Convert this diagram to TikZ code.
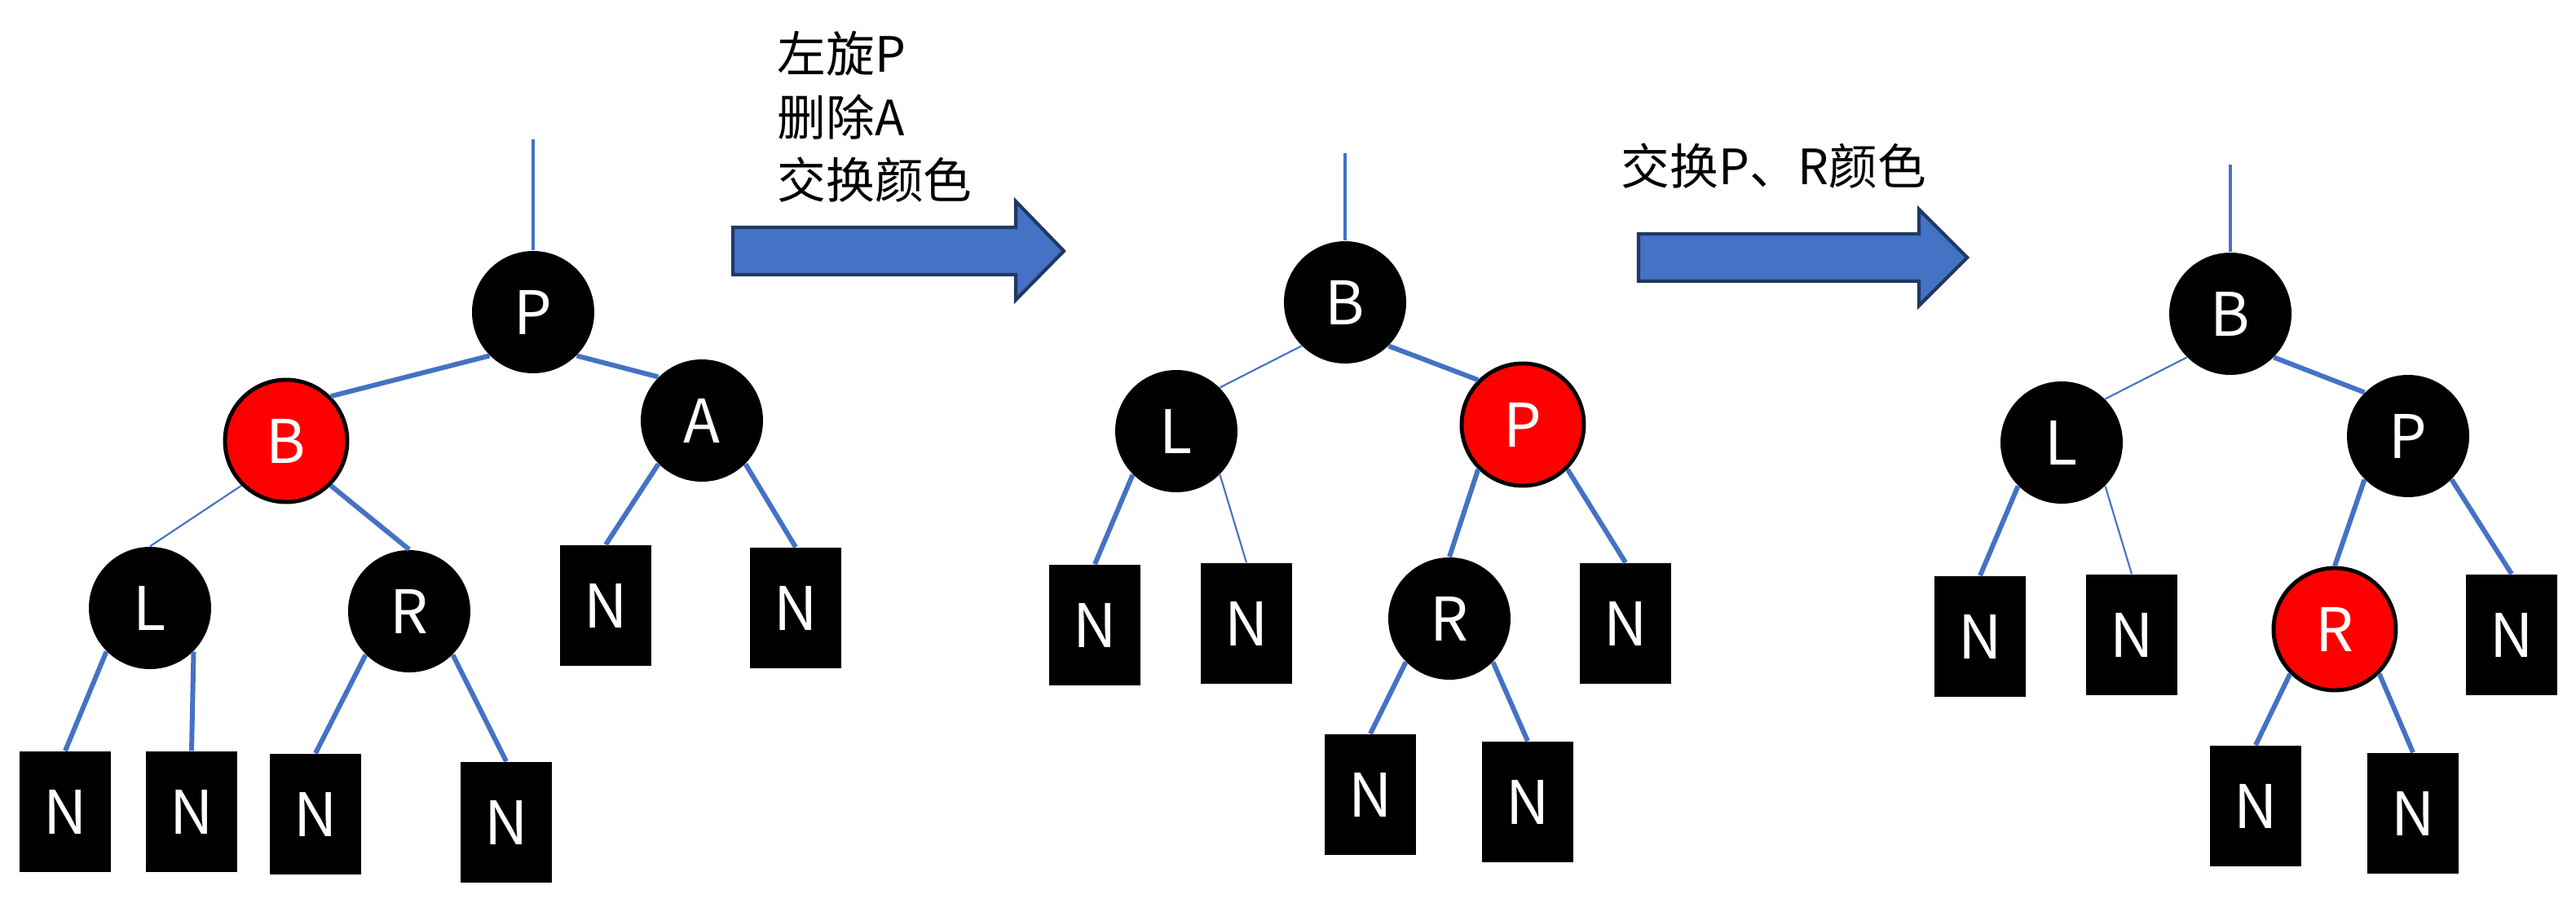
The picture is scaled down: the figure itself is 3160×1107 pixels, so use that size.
\documentclass[tikz,border=0pt]{standalone}
\usepackage{fontspec}
\setmainfont{Noto Sans CJK SC}
\usetikzlibrary{positioning}
\definecolor{linkblue}{HTML}{4472C4}
\definecolor{arrowedge}{HTML}{203864}
\definecolor{nodered}{HTML}{FF0000}

\begin{document}
\begin{tikzpicture}[
  x=0.1mm, y=-0.1mm,
  blk/.style={circle, fill=black, minimum size=1.5cm, inner sep=0pt,
              text=white, font=\fontsize{21}{25}\selectfont},
  rednode/.style={blk, fill=nodered, draw=black, line width=1.4pt},
  nil/.style={rectangle, fill=black, minimum width=1.12cm, minimum height=1.48cm,
              inner sep=0pt, text=white, font=\fontsize{21}{25}\selectfont},
  link/.style={linkblue, line width=1.7pt},
  thinlink/.style={linkblue, line width=0.6pt},
  stem/.style={linkblue, line width=1.4pt},
  bigarrow/.style={fill=linkblue, draw=arrowedge, line width=1.2pt},
  note/.style={font=\fontsize{17}{22}\selectfont, inner sep=0pt, align=left}
]
\useasboundingbox (0,0) rectangle (3160,1107);

% before
\coordinate (top1) at (654,171);
\node[blk] (P1) at (654,383) {P};
\node[rednode] (B1) at (351,541) {B};
\node[blk] (A1) at (861,516) {A};
\node[blk] (L1) at (184,746) {L};
\node[blk] (R1) at (502,750) {R};
\node[nil] (n11) at (80,996) {N};
\node[nil] (n12) at (235,996) {N};
\node[nil] (n13) at (387,999) {N};
\node[nil] (n14) at (621,1009) {N};
\node[nil] (n15) at (743,743) {N};
\node[nil] (n16) at (976,746) {N};

\draw[stem] (top1) -- (P1.north);
\draw[link] (P1.-135) -- (B1.45);
\draw[link] (P1.-45) -- (A1.135);
\draw[thinlink] (B1.-135) -- (L1.north);
\draw[link] (B1.-45) -- (R1.north);
\draw[link] (L1.-135) -- (n11.north);
\draw[link] (L1.-45) -- (n12.north);
\draw[link] (R1.-135) -- (n13.north);
\draw[link] (R1.-45) -- (n14.north);
\draw[link] (A1.-135) -- (n15.north);
\draw[link] (A1.-45) -- (n16.north);

\node[note, anchor=north west] (step1) at (953,38) {左旋P\\删除A\\交换颜色};
\draw[bigarrow] (899,279) -- (1246,279) -- (1246,247) -- (1305,308)
  -- (1246,368) -- (1246,337) -- (899,337) -- cycle;

% after rotation
\coordinate (top2) at (1650,188);
\node[blk] (B2) at (1650,371) {B};
\node[blk] (L2) at (1443,529) {L};
\node[rednode] (P2) at (1868,521) {P};
\node[blk] (R2) at (1778,759) {R};
\node[nil] (n21) at (1343,767) {N};
\node[nil] (n22) at (1529,765) {N};
\node[nil] (n23) at (1994,765) {N};
\node[nil] (n24) at (1681,975) {N};
\node[nil] (n25) at (1874,984) {N};

\draw[stem] (top2) -- (B2.north);
\draw[thinlink] (B2.-135) -- (L2.45);
\draw[link] (B2.-45) -- (P2.135);
\draw[link] (L2.-135) -- (n21.north);
\draw[thinlink] (L2.-45) -- (n22.north);
\draw[link] (P2.-135) -- (R2.north);
\draw[link] (P2.-45) -- (n23.north);
\draw[link] (R2.-135) -- (n24.north);
\draw[link] (R2.-45) -- (n25.north);

\node[note, anchor=base west] (step2) at (1988,226) {交换P、R颜色};
\draw[bigarrow] (2010,287) -- (2354,287) -- (2354,257) -- (2413,316)
  -- (2354,375) -- (2354,345) -- (2010,345) -- cycle;

% after recolouring
\coordinate (top3) at (2736,202);
\node[blk] (B3) at (2736,385) {B};
\node[blk] (L3) at (2529,543) {L};
\node[blk] (P3) at (2954,535) {P};
\node[rednode] (R3) at (2864,772) {R};
\node[nil] (n31) at (2429,781) {N};
\node[nil] (n32) at (2615,779) {N};
\node[nil] (n33) at (3081,779) {N};
\node[nil] (n34) at (2767,989) {N};
\node[nil] (n35) at (2960,998) {N};

\draw[stem] (top3) -- (B3.north);
\draw[thinlink] (B3.-135) -- (L3.45);
\draw[link] (B3.-45) -- (P3.135);
\draw[link] (L3.-135) -- (n31.north);
\draw[thinlink] (L3.-45) -- (n32.north);
\draw[link] (P3.-135) -- (R3.north);
\draw[link] (P3.-45) -- (n33.north);
\draw[link] (R3.-135) -- (n34.north);
\draw[link] (R3.-45) -- (n35.north);

\end{tikzpicture}
\end{document}
